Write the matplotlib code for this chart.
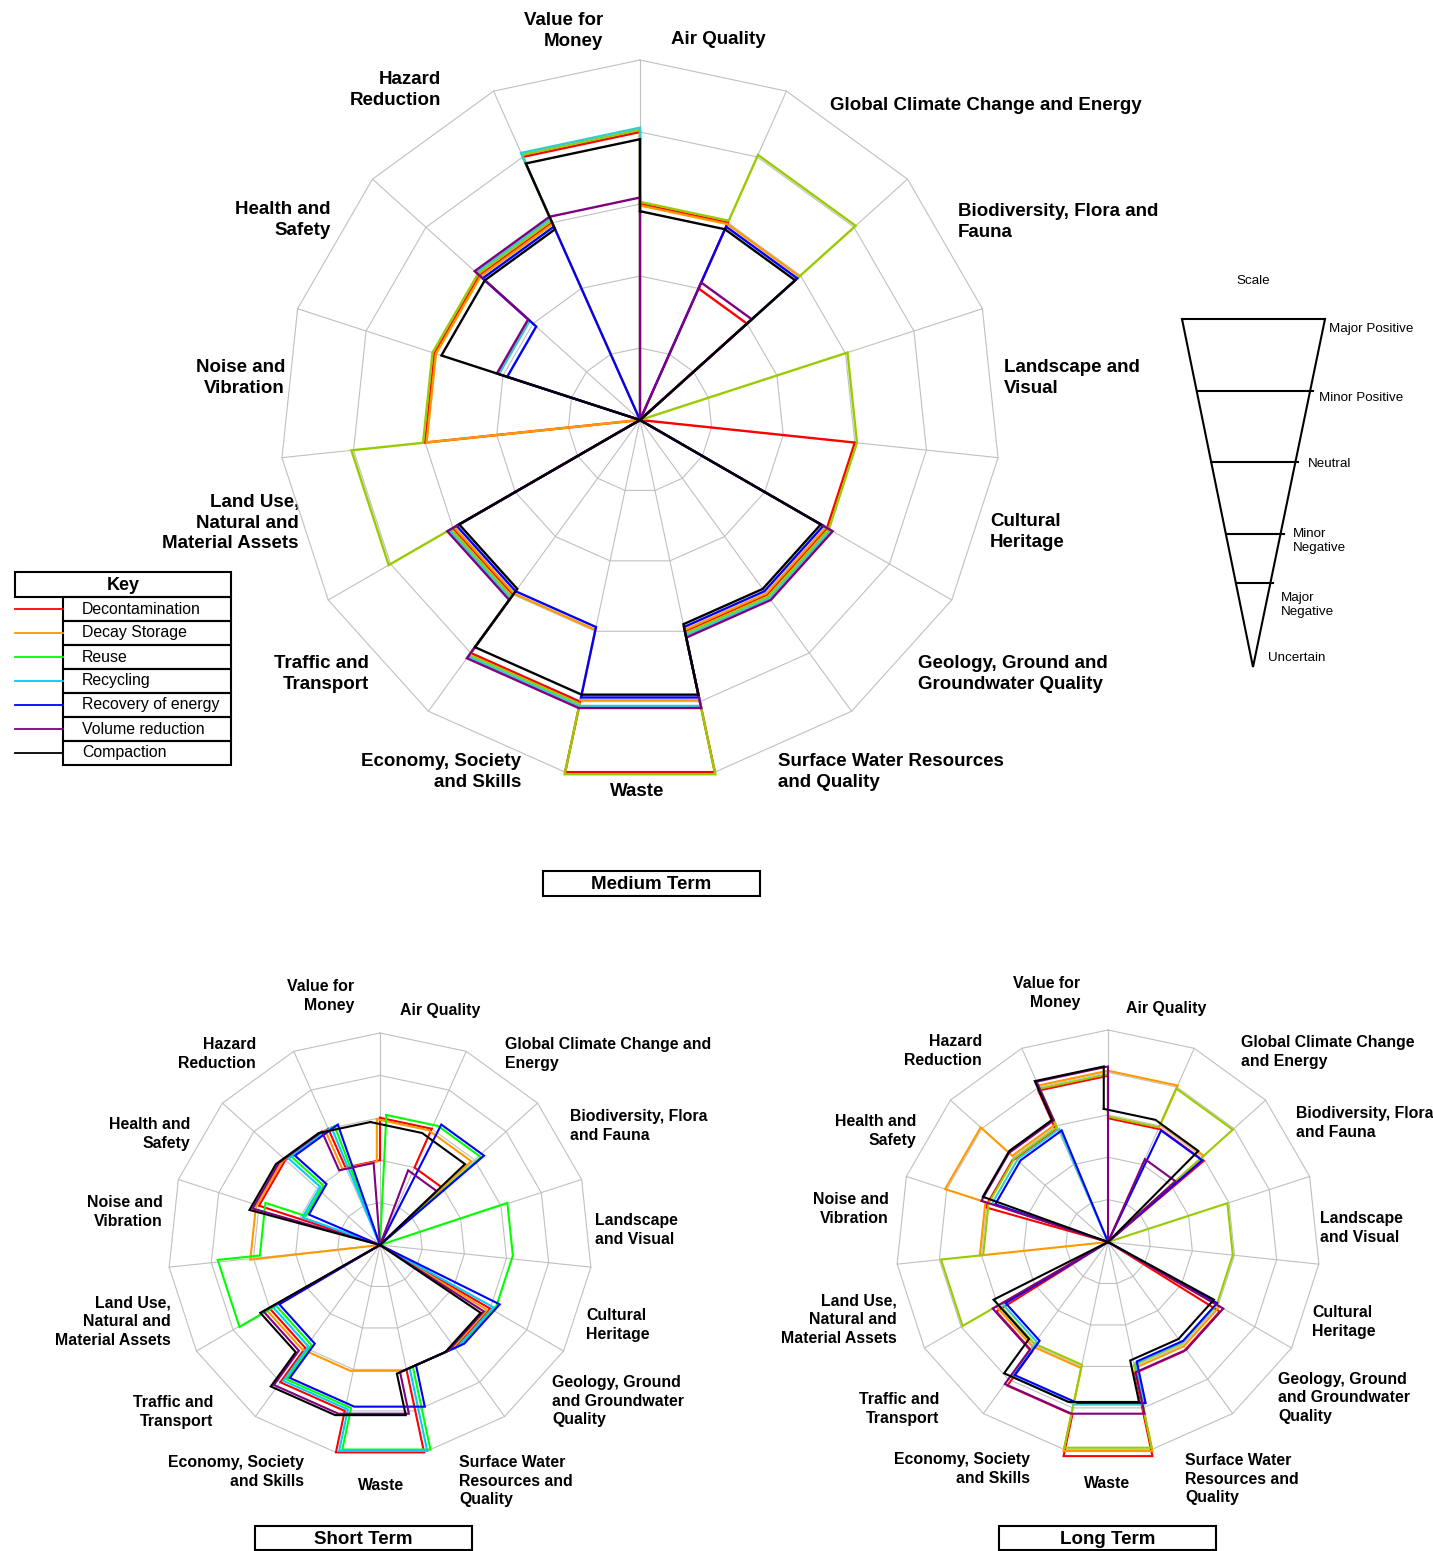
import numpy as np
import matplotlib
matplotlib.use('Agg')
import matplotlib.pyplot as plt
from matplotlib.patches import Rectangle, Polygon

plt.rcParams['font.family'] = ['Liberation Sans', 'DejaVu Sans']

# Sectors run clockwise from the top spoke
categories = ['Air Quality', 'Global Climate Change and Energy',
              'Biodiversity, Flora and Fauna', 'Landscape and Visual',
              'Cultural Heritage', 'Geology, Ground and Groundwater Quality',
              'Surface Water Resources and Quality', 'Waste',
              'Economy, Society and Skills', 'Traffic and Transport',
              'Land Use, Natural and Material Assets', 'Noise and Vibration',
              'Health and Safety', 'Hazard Reduction', 'Value for Money']

options = ['Decontamination', 'Decay Storage', 'Reuse', 'Recycling',
           'Recovery of energy', 'Volume reduction', 'Compaction']

# 0 = Uncertain ... 5 = Major Positive
scale_levels = ['Uncertain', 'Major\nNegative', 'Minor\nNegative',
                'Neutral', 'Minor Positive', 'Major Positive']

# one row per option (same order as `options`), one column per category
medium_term = [
    [3, 2, 0, 0, 3, 3, 3, 5, 4, 3, 0, 3, 3, 3, 4],
    [3, 3, 0, 0, 0, 3, 3, 4, 3, 3, 0, 3, 3, 3, 0],
    [3, 4, 0, 3, 3, 3, 3, 5, 4, 3, 4, 3, 3, 3, 4],
    [0, 0, 0, 0, 0, 3, 3, 4, 4, 3, 0, 0, 2, 3, 4],
    [0, 3, 0, 0, 0, 3, 3, 4, 3, 3, 0, 0, 2, 3, 0],
    [0, 2, 0, 0, 0, 3, 3, 4, 4, 3, 0, 0, 2, 3, 3],
    [3, 3, 0, 0, 0, 3, 3, 4, 4, 3, 0, 0, 3, 3, 4],
]
short_term = [
    [3, 2, 0, 0, 0, 3, 3, 5, 4, 3, 0, 0, 3, 3, 2],
    [3, 3, 0, 0, 0, 3, 3, 3, 3, 3, 0, 3, 3, 3, 2],
    [3, 3, 0, 3, 3, 3, 3, 5, 4, 3, 4, 3, 2, 3, 0],
    [0, 0, 0, 0, 0, 3, 3, 5, 4, 3, 0, 0, 2, 3, 0],
    [0, 3, 0, 0, 0, 3, 3, 4, 4, 3, 0, 0, 2, 3, 0],
    [0, 2, 0, 0, 0, 3, 3, 4, 4, 3, 0, 0, 3, 3, 2],
    [3, 3, 0, 0, 0, 3, 3, 4, 4, 3, 0, 0, 3, 3, 3],
]
long_term = [
    [3, 3, 0, 0, 0, 3, 3, 5, 4, 3, 0, 0, 3, 3, 4],
    [4, 3, 0, 0, 0, 3, 3, 5, 3, 3, 0, 3, 4, 3, 4],
    [3, 4, 0, 3, 3, 3, 3, 5, 3, 3, 4, 3, 3, 3, 4],
    [0, 0, 0, 0, 0, 3, 3, 4, 4, 3, 0, 0, 3, 3, 0],
    [0, 3, 0, 0, 0, 3, 3, 4, 4, 3, 0, 0, 3, 3, 0],
    [0, 2, 0, 0, 0, 3, 3, 4, 4, 3, 0, 0, 3, 3, 4],
    [3, 3, 0, 0, 0, 3, 3, 4, 4, 3, 0, 0, 3, 3, 4],
]

# line colours
colors_mid = ['#FF0000', '#FF9900', '#99CC00', '#33CCCC', '#0000FF', '#800080', '#000000']
colors_short = ['#FF0000', '#FF9900', '#00FF00', '#00CCFF', '#0000FF', '#800080', '#000000']
colors_key = ['#FF0000', '#FF9900', '#00FF00', '#00CCFF', '#0000FF', '#800080', '#000000']

# small nudges (radial, x, y in score units) so overlapping outlines stay visible
nudge_mid = [(0.0, 0, 0), (-0.02, 0, 0), (0.03, 0, 0), (0.06, 0, 0),
             (-0.06, 0, 0), (0.09, 0, 0), (-0.10, 0, 0)]
nudge_short = [(0, 0.0, 0.0), (0, -0.075, -0.033), (0, 0.15, 0.066), (0, 0.075, 0.033),
               (0, 0.225, 0.10), (0, -0.15, -0.066), (0, -0.225, -0.10)]
nudge_long = [(0.04, 0, -0.12), (0.04, 0, 0), (-0.04, 0, 0), (-0.08, 0.04, 0),
              (-0.12, 0.08, 0), (0.14, 0, 0), (0.0, -0.10, 0.14)]

W, H = 1433, 1551
fig = plt.figure(figsize=(W / 100, H / 100), dpi=100)

# overlay in pixel coordinates for labels, key and scale
ov = fig.add_axes([0, 0, 1, 1])
ov.set_xlim(0, W)
ov.set_ylim(H, 0)
ov.axis('off')

n = len(categories)
edges = np.arange(n + 1) * 2 * np.pi / n
R_MAX = 5.5
GRID = '#C0C0C0'


def radar_axes(cx, cy, r5):
    half = r5 * R_MAX / 5
    ax = fig.add_axes([(cx - half) / W, 1 - (cy + half) / H, 2 * half / W, 2 * half / H],
                      projection='polar')
    ax.set_theta_zero_location('N')
    ax.set_theta_direction(-1)
    ax.set_ylim(0, R_MAX)
    ax.axis('off')
    for lev in range(1, 6):
        ax.plot(edges, [lev] * (n + 1), color=GRID, lw=0.8, clip_on=False)
    for e in edges[:-1]:
        ax.plot([e, e], [0, 5], color=GRID, lw=0.8, clip_on=False)
    return ax


def outline(scores, nudge):
    rho, tx, ty = nudge
    th, rr = [], []
    for k, v in enumerate(scores):
        if v == 0:
            th += [0.0, 0.0]
            rr += [0.0, 0.0]
            continue
        for a in (edges[k], edges[k + 1]):
            x = (v + rho) * np.sin(a) + tx
            y = (v + rho) * np.cos(a) + ty
            th.append(np.arctan2(x, y))
            rr.append(np.hypot(x, y))
    th.append(th[0])
    rr.append(rr[0])
    return th, rr


def draw_chart(cx, cy, r5, table, colors, nudges, lw):
    ax = radar_axes(cx, cy, r5)
    for scores, col, nd in zip(table, colors, nudges):
        th, rr = outline(scores, nd)
        ax.plot(th, rr, color=col, lw=lw, solid_joinstyle='miter', clip_on=False)
    return ax


def draw_labels(cx, cy, texts, offsets, size):
    for txt, (dx, dy, ha) in zip(texts, offsets):
        ov.text(cx + dx, cy + dy, txt, ha=ha, va='center', ma=ha,
                fontsize=size, fontweight='bold', linespacing=1.3)


def title_box(x, y, w, h, txt):
    ov.add_patch(Rectangle((x, y), w, h, fill=False, ec='black', lw=1.5))
    ov.text(x + w / 2, y + h / 2 + 1, txt, ha='center', va='center',
            fontsize=13.5, fontweight='bold')


# --- medium term ---
mid_texts = ['Air Quality', 'Global Climate Change and Energy',
             'Biodiversity, Flora and\nFauna', 'Landscape and\nVisual',
             'Cultural\nHeritage', 'Geology, Ground and\nGroundwater Quality',
             'Surface Water Resources\nand Quality', 'Waste',
             'Economy, Society\nand Skills', 'Traffic and\nTransport',
             'Land Use,\nNatural and\nMaterial Assets', 'Noise and\nVibration',
             'Health and\nSafety', 'Hazard\nReduction', 'Value for\nMoney']
mid_pos = [(31, -380, 'left'), (190, -314, 'left'), (318, -198, 'left'),
           (364, -42, 'left'), (350, 112, 'left'), (278, 254, 'left'),
           (138, 352, 'left'), (-3, 372, 'center'), (-119, 352, 'right'),
           (-271, 254, 'right'), (-341, 103, 'right'), (-355, -42, 'right'),
           (-309, -200, 'right'), (-199, -330, 'right'), (-37, -389, 'right')]

draw_chart(640, 420, 360, medium_term, colors_mid, nudge_mid, 1.7)
draw_labels(640, 420, mid_texts, mid_pos, 13.5)
title_box(543, 871, 217, 25, 'Medium Term')

# --- short and long term ---
short_texts = ['Air Quality', 'Global Climate Change and\nEnergy',
               'Biodiversity, Flora\nand Fauna', 'Landscape\nand Visual',
               'Cultural\nHeritage', 'Geology, Ground\nand Groundwater\nQuality',
               'Surface Water\nResources and\nQuality', 'Waste',
               'Economy, Society\nand Skills', 'Traffic and\nTransport',
               'Land Use,\nNatural and\nMaterial Assets', 'Noise and\nVibration',
               'Health and\nSafety', 'Hazard\nReduction', 'Value for\nMoney']
long_texts = list(short_texts)
long_texts[1] = 'Global Climate Change\nand Energy'

short_pos = [(20, -234, 'left'), (125, -191, 'left'), (190, -119, 'left'),
             (215, -15, 'left'), (206, 80, 'left'), (172, 156, 'left'),
             (79, 236, 'left'), (1, 241, 'center'), (-76, 227, 'right'),
             (-167, 167, 'right'), (-209, 77, 'right'), (-217, -33, 'right'),
             (-190, -111, 'right'), (-124, -191, 'right'), (-26, -249, 'right')]
long_pos = [(18, -234, 'left'), (133, -190, 'left'), (188, -119, 'left'),
            (212, -14, 'left'), (204, 80, 'left'), (170, 156, 'left'),
            (77, 237, 'left'), (-1, 241, 'center'), (-78, 227, 'right'),
            (-169, 167, 'right'), (-211, 78, 'right'), (-219, -33, 'right'),
            (-192, -111, 'right'), (-126, -191, 'right'), (-28, -249, 'right')]

draw_chart(380, 1245, 212, short_term, colors_short, nudge_short, 1.5)
draw_labels(380, 1245, short_texts, short_pos, 11.4)
title_box(255, 1526, 217, 24, 'Short Term')

draw_chart(1108, 1242, 212, long_term, colors_mid, nudge_long, 1.5)
draw_labels(1108, 1242, long_texts, long_pos, 11.4)
title_box(999, 1526, 217, 24, 'Long Term')

# --- key ---
ov.add_patch(Rectangle((15, 572), 216, 25, fill=False, ec='black', lw=1.5))
ov.text(123, 585, 'Key', ha='center', va='center', fontsize=13, fontweight='bold')
row_h = 24
for i, (name, col) in enumerate(zip(options, colors_key)):
    top = 597 + i * row_h
    ov.add_patch(Rectangle((63, top), 168, row_h, fill=False, ec='black', lw=1.5))
    ov.plot([15, 63], [top + row_h / 2, top + row_h / 2], color=col, lw=1.3)
    ov.text(82, top + row_h / 2, name, ha='left', va='center', fontsize=11.4)

# --- scale triangle ---
tl, tr, apex = (1182, 319), (1325, 319), (1253, 667)
ov.add_patch(Polygon([tl, tr, apex], closed=True, fill=False, ec='black', lw=1.5))
ov.text(1253, 281, 'Scale', ha='center', va='center', fontsize=9.6)
level_y = [391, 462, 534, 583]
for y in level_y:
    f = (y - tl[1]) / (apex[1] - tl[1])
    xl = tl[0] + f * (apex[0] - tl[0])
    xr = tr[0] + f * (apex[0] - tr[0])
    ov.plot([xl, xr + 3], [y, y], color='black', lw=1.5)
scale_pos = [(1268, 658), (1281, 605), (1293, 541), (1308, 464), (1319, 398), (1329, 329)]
for txt, (x, y) in zip(scale_levels, scale_pos):
    ov.text(x, y, txt, ha='left', va='center', fontsize=9.6, linespacing=1.3)

fig.savefig('out.png', dpi=100)
